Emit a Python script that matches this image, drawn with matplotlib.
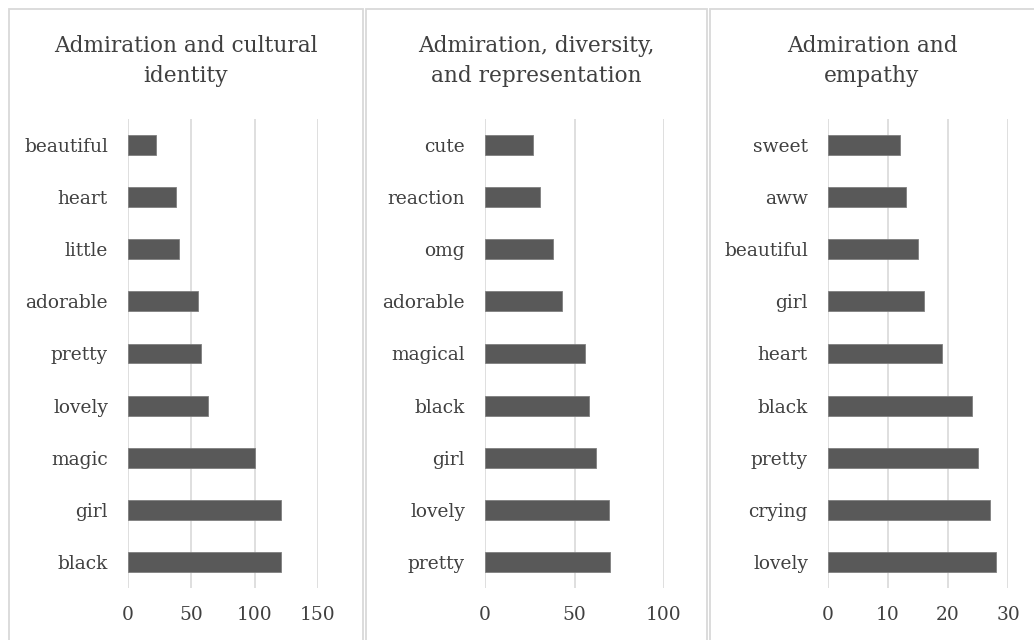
import matplotlib
matplotlib.use("Agg")
import matplotlib.pyplot as plt
from matplotlib.patches import Rectangle

titles = ["Admiration and cultural\nidentity",
          "Admiration, diversity,\nand representation",
          "Admiration and\nempathy"]

cats1 = ["beautiful", "heart", "little", "adorable", "pretty", "lovely", "magic", "girl", "black"]
vals1 = [22, 38, 40, 55, 58, 63, 100, 121, 121]
cats2 = ["cute", "reaction", "omg", "adorable", "magical", "black", "girl", "lovely", "pretty"]
vals2 = [27, 31, 38, 43, 56, 58, 62, 69, 70]
cats3 = ["sweet", "aww", "beautiful", "girl", "heart", "black", "pretty", "crying", "lovely"]
vals3 = [12, 13, 15, 16, 19, 24, 25, 27, 28]

ticks1 = [0, 50, 100, 150]
ticks2 = [0, 50, 100]
ticks3 = [0, 10, 20, 30]

W, H = 1034, 640
fig = plt.figure(figsize=(W / 100, H / 100), dpi=100)
fig.patch.set_facecolor("white")

TXT = "#404040"
GRID = "#d9d9d9"
BAR = "#595959"
FONT = "DejaVu Serif"

# panel frames (pixels: left, right)
panels = [(9, 363), (366, 707), (710, 1045)]
for (l, r) in panels:
    fig.patches.append(Rectangle((l / W, -0.05), (r - l) / W, (H - 9) / H + 0.05,
                                 transform=fig.transFigure, fill=False,
                                 edgecolor=GRID, linewidth=1.3))

# axes: x0 pixel, x_max pixel
axes_px = [(128, 318, 150, ticks1, cats1, vals1),
           (485, 664, 100, ticks2, cats2, vals2),
           (828, 1008, 30, ticks3, cats3, vals3)]
top_px, bot_px = 119, 588
for i, (x0, x1, xmax, ticks, cats, vals) in enumerate(axes_px):
    ax = fig.add_axes([x0 / W, 1 - bot_px / H, (x1 - x0) / W, (bot_px - top_px) / H])
    y = list(range(len(cats)))
    ax.barh(y, vals, height=0.38, color=BAR, edgecolor="#7f7f7f", linewidth=0.6, zorder=3)
    ax.set_xlim(0, xmax)
    ax.set_ylim(len(cats) - 0.5, -0.5)
    ax.set_yticks(y)
    ax.set_yticklabels(cats, fontsize=13.4, color=TXT, family=FONT)
    ax.set_xticks(ticks)
    ax.set_xticklabels([str(t) for t in ticks], fontsize=13.4, color=TXT, family=FONT)
    ax.tick_params(axis="x", length=0, pad=13)
    ax.tick_params(axis="y", length=0, pad=14.5)
    ax.grid(axis="x", color=GRID, linewidth=1.2, zorder=0)
    for s in ax.spines.values():
        s.set_visible(False)
    ax.set_facecolor("none")
    pl, pr = panels[i]
    cx = (pl + min(pr, W)) / 2 / W
    fig.text(cx, 1 - 61 / H, titles[i], ha="center", va="center", fontsize=15.6,
             color=TXT, family=FONT, linespacing=1.45)

fig.savefig("out.png", dpi=100, facecolor="white")
